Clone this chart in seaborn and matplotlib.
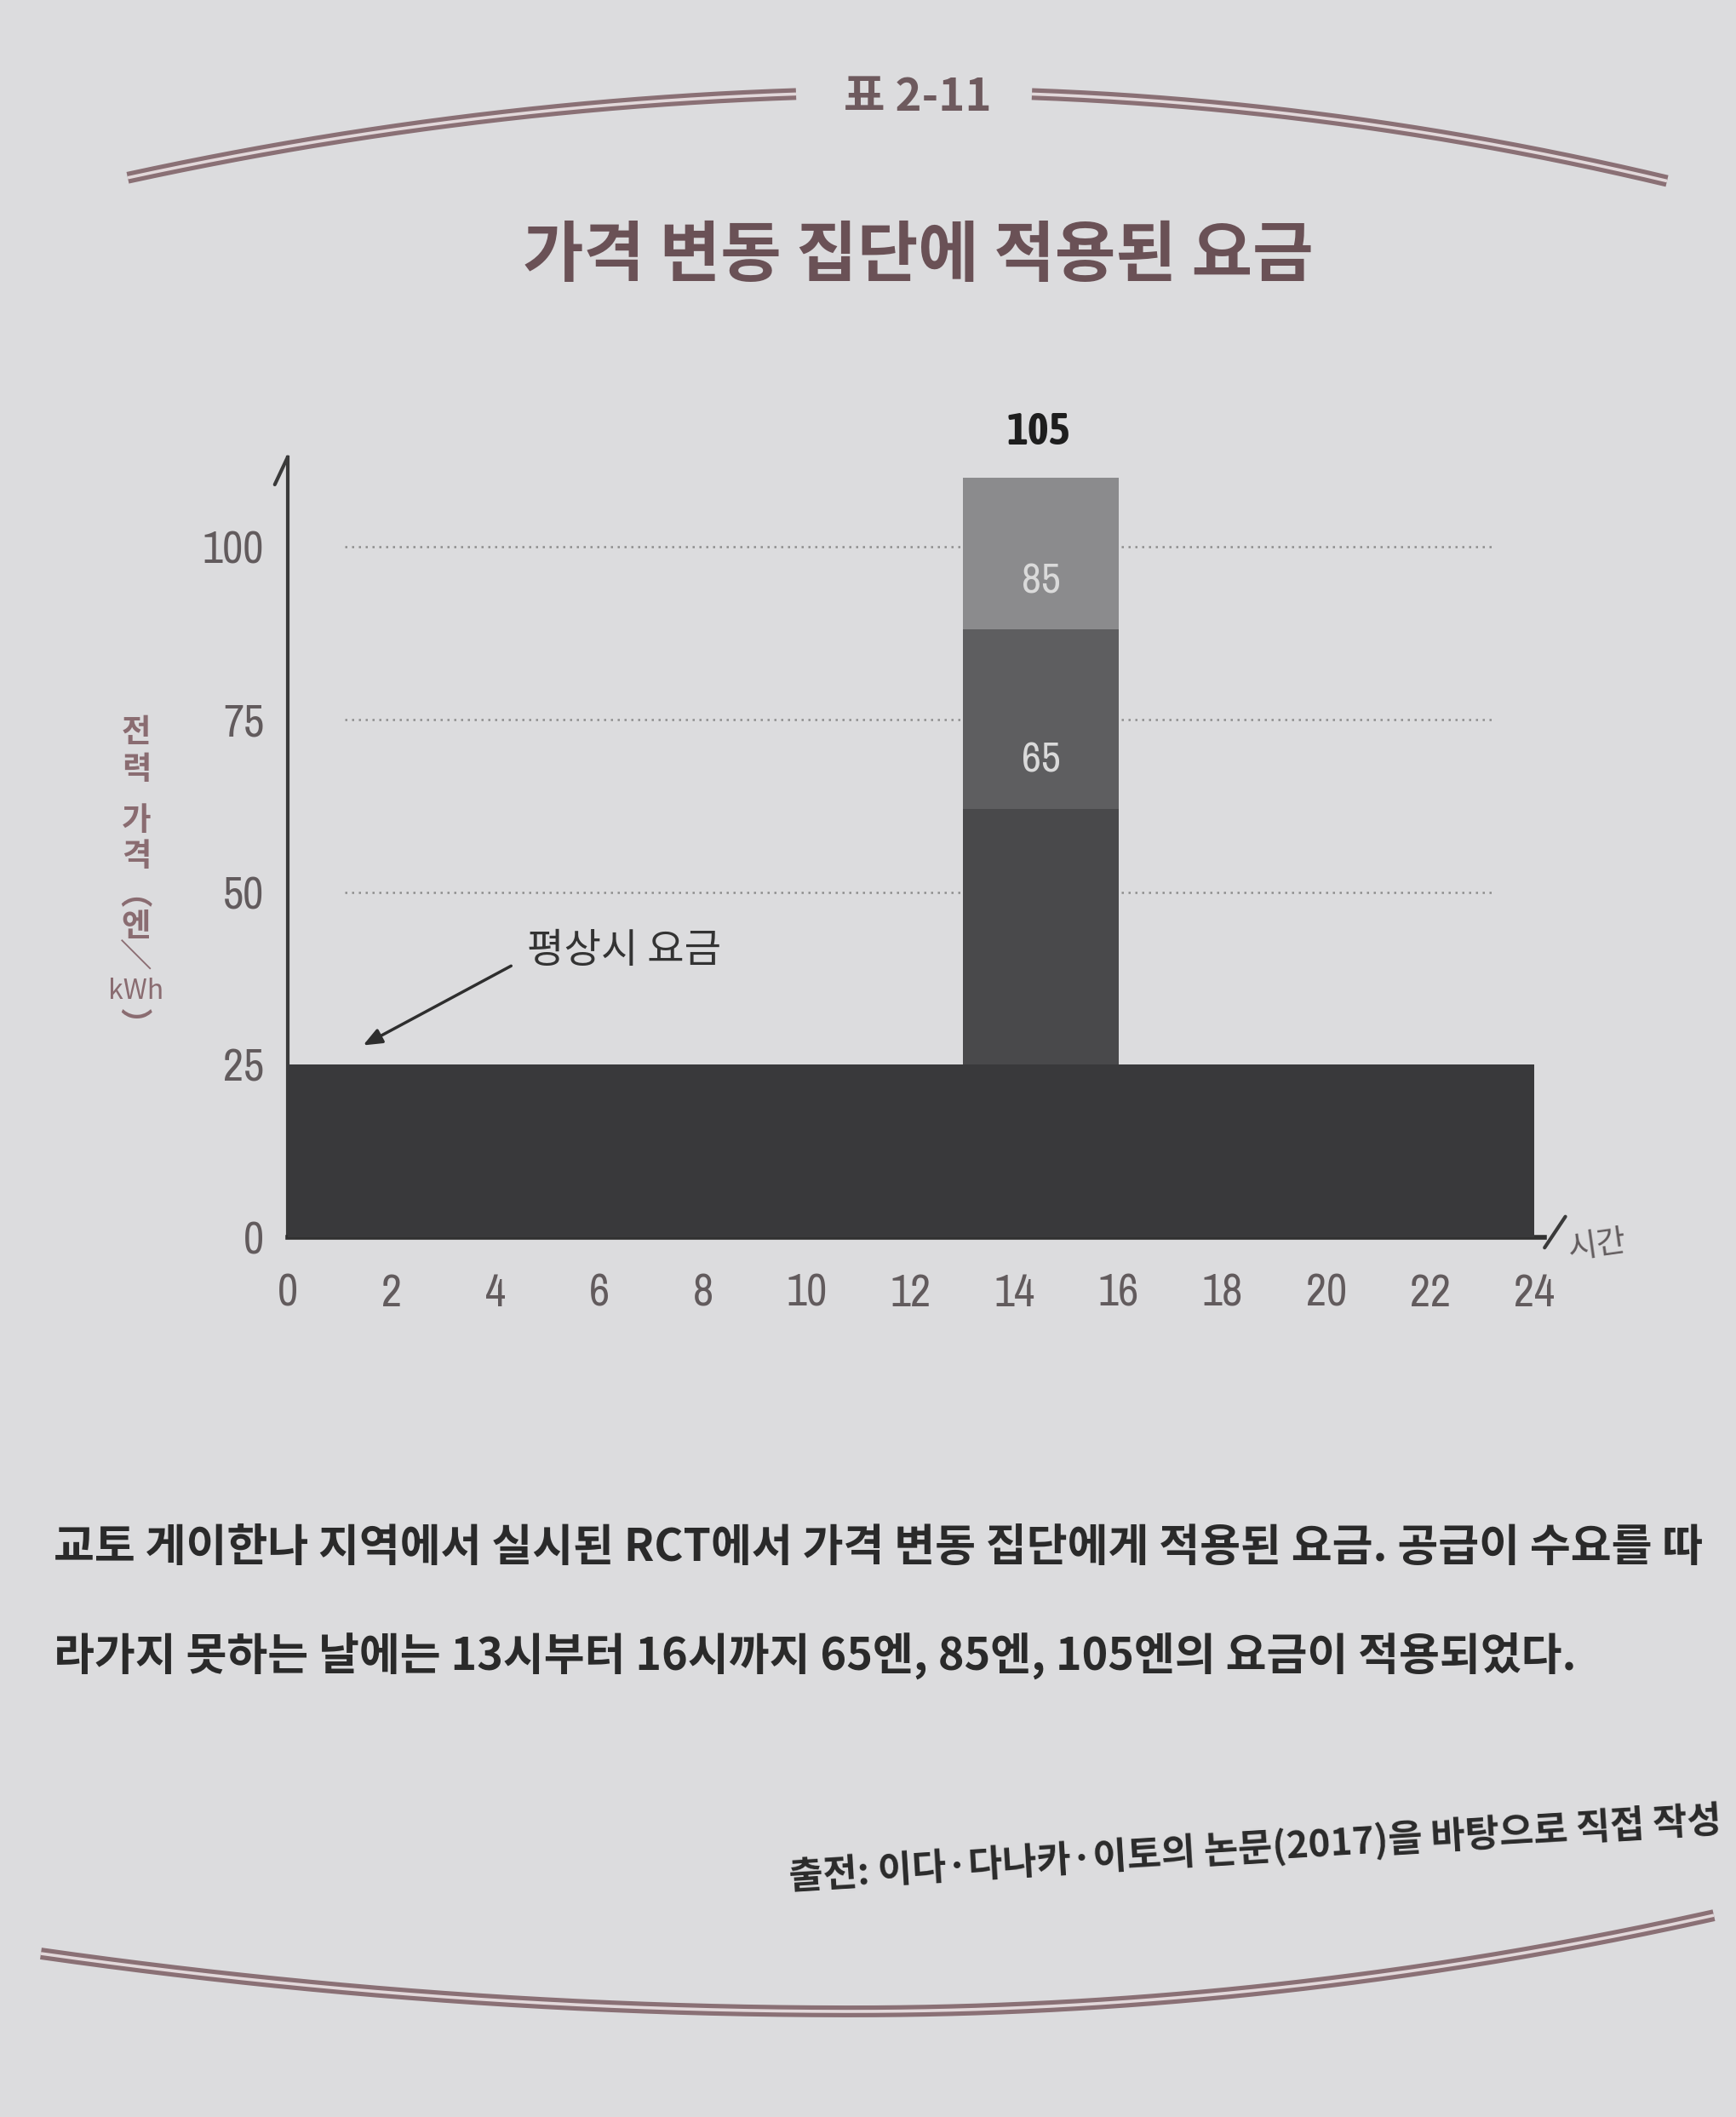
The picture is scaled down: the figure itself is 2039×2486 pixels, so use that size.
import numpy as np
import matplotlib
matplotlib.use("Agg")
import matplotlib.pyplot as plt
import matplotlib.font_manager as fm
import seaborn as sns

# ---------------- data ----------------
base_start = 0
base_end = 24
base_price = 25
spike_start = 13
spike_end = 16
tier_tops = [62, 88, 110]            # drawn heights of the three stacked tiers
tier_labels = ["65", "85", "105"]
tier_colors = ["#49494b", "#5e5e60", "#8b8b8d"]
y_ticks = [0, 25, 50, 75, 100]
x_ticks = list(range(0, 25, 2))
grid_levels = [50, 75, 100]

title = "가격 변동 집단에 적용된 요금"
fig_no = "표 2-11"
ylabel_chars = ["전", "력", "가", "격", "︵", "엔", "＼", "kWh", "︶"]
xlabel = "시간"
note = "평상시 요금"
caption1 = "교토 게이한나 지역에서 실시된 RCT에서 가격 변동 집단에게 적용된 요금. 공급이 수요를 따"
caption2 = "라가지 못하는 날에는 13시부터 16시까지 65엔, 85엔, 105엔의 요금이 적용되었다."
source = "출전: 이다·다나카·이토의 논문(2017)을 바탕으로 직접 작성"

# ---------------- style ----------------
PAGE = "#dcdcde"
sns.set_theme(style="white", rc={"axes.facecolor": PAGE, "figure.facecolor": PAGE})
plt.rcParams["font.family"] = ["Noto Sans CJK KR", "DejaVu Sans"]


def find_narrow(bold=False):
    cands = []
    for f in fm.fontManager.ttflist:
        st = str(f.stretch)
        narrow = ("Narrow" in f.name or "Condensed" in f.name or "condensed" in st
                  or (st.isdigit() and int(st) < 100))
        if not narrow or "italic" in str(f.style) or "oblique" in str(f.style):
            continue
        w = f.weight if isinstance(f.weight, int) else (700 if "bold" in str(f.weight) else 400)
        target = 700 if bold else 400
        pref = 0 if ("Narrow" in f.name or "Condensed" in f.name or "Noto Sans" in f.name or "Roboto" in f.name) else 1
        cands.append((pref, abs(w - target), f.fname))
    if cands:
        cands.sort()
        return fm.FontProperties(fname=cands[0][2])
    return fm.FontProperties(family="DejaVu Sans", weight="bold" if bold else "normal")


NARROW_R = find_narrow(False)
NARROW_B = find_narrow(True)

TICKC = "#625b5d"

W, H = 2040, 2486
fig = plt.figure(figsize=(W / 100, H / 100), dpi=100)
fig.patch.set_facecolor(PAGE)

# axes geometry (pixels)
x0_px, y0_px = 338, 1453
px_per_x, px_per_y = 61.0, 8.11
xmax, ymax = 24.4, 113
ax = fig.add_axes([x0_px / W, (H - y0_px) / H, xmax * px_per_x / W, ymax * px_per_y / H])
ax.set_xlim(0, xmax)
ax.set_ylim(0, ymax)

# gridlines
ax.hlines(grid_levels, 1.1, 23.2, colors="#8e8e8e", linestyles=(0, (1, 2.2)), lw=1.8, zorder=1)

# base bar
ax.bar([base_start], [base_price], width=base_end - base_start, align="edge",
       color="#39393b", edgecolor="none", zorder=3)
# spike tiers
bottoms = [base_price] + tier_tops[:-1]
heights = [t - b for t, b in zip(tier_tops, bottoms)]
for b, h, c in zip(bottoms, heights, tier_colors):
    ax.bar([spike_start], [h], bottom=[b], width=spike_end - spike_start, align="edge",
           color=c, edgecolor="none", zorder=3)

xc = (spike_start + spike_end) / 2
lab_fp = NARROW_R.copy()
lab_fp.set_size(36)
for b, lab in zip(bottoms[1:], tier_labels[:2]):
    ax.text(xc, b + 7, lab, ha="center", va="center", color="#dadada",
            fontproperties=lab_fp, zorder=5)
top_fp = NARROW_B.copy()
top_fp.set_size(38)
ax.text(xc - 0.05, tier_tops[-1] + 3.5, tier_labels[2], ha="center", va="bottom",
        color="#1e1e1e", fontproperties=top_fp, fontweight="bold", clip_on=False)

# spines
for s in ["top", "right"]:
    ax.spines[s].set_visible(False)
ax.spines["left"].set_color("#3a3a3a")
ax.spines["left"].set_linewidth(3)
ax.spines["bottom"].set_color("#303030")
ax.spines["bottom"].set_linewidth(4)
ax.spines["bottom"].set_bounds(0, 24.2)
# axis-end strokes
ax.plot([0, -0.25], [ymax, ymax - 4], color="#3a3a3a", lw=3, clip_on=False, solid_capstyle="round")
ax.plot([24.2, 24.6], [-1.5, 3], color="#3a3a3a", lw=3, clip_on=False, solid_capstyle="round")

ax.set_xticks(x_ticks)
ax.set_xticklabels([str(v) for v in x_ticks])
ax.set_yticks(y_ticks)
ax.set_yticklabels([str(v) for v in y_ticks])
ax.tick_params(axis="x", length=0, pad=30, labelcolor=TICKC)
ax.tick_params(axis="y", length=0, pad=20, labelcolor=TICKC)
tick_fp = NARROW_R.copy()
tick_fp.set_size(38)
for lab in ax.get_xticklabels() + ax.get_yticklabels():
    lab.set_fontproperties(tick_fp)

ax.text(25.2, -1.2, xlabel, ha="center", va="center", fontsize=27, color=TICKC,
        rotation=8, clip_on=False)

# annotation
ax.text(4.6, 41.5, note, ha="left", va="center", fontsize=34, color="#333333")
ax.annotate("", xy=(1.45, 27.8), xytext=(4.3, 39.3),
            arrowprops=dict(arrowstyle="-|>,head_length=1.1,head_width=0.45", color="#2e2e2e",
                            lw=2.5, shrinkA=0, shrinkB=0))

# y label (stacked vertically)
ylab_y = [860, 904, 964, 1006, 1050, 1088, 1124, 1164, 1204]
for ch, yp in zip(ylabel_chars, ylab_y):
    fs = 23 if ch == "kWh" else 27
    fig.text(160 / W, 1 - yp / H, ch, ha="center", va="center", fontsize=fs,
             color="#8a6c71", fontweight="bold" if ch != "kWh" else "normal")

# title block
fig.text(1078 / W, 1 - 114 / H, fig_no, ha="center", va="center", fontsize=38,
         fontweight="heavy", color="#6e5a5e")
fig.text(1078 / W, 1 - 301 / H, title, ha="center", va="center", fontsize=56,
         fontweight="bold", color="#6a5156")


# decorative double lines
def deco(xs, ys):
    fig.add_artist(plt.Line2D(xs / W, 1 - ys / H, color="#8a7075", lw=10, solid_capstyle="butt"))
    fig.add_artist(plt.Line2D(xs / W, 1 - ys / H, color="#e2d8da", lw=2.6, solid_capstyle="butt"))


xl = np.linspace(150, 935, 200)
deco(xl, 108 + 1.17e-4 * (xl - 1078) ** 2)
xr = np.linspace(1212, 1958, 200)
deco(xr, 108 + 1.35e-4 * (xr - 1078) ** 2)
xb = np.linspace(48, 2013, 400)
yb = np.where(xb < 1000, 2362 - 7.5e-5 * (xb - 1000) ** 2, 2362 - 1.1e-4 * (xb - 1000) ** 2)
deco(xb, yb)

# caption
fig.text(63 / W, 1 - 1818 / H, caption1, ha="left", va="center", fontsize=37.5,
         color="#2a2a2a", fontweight="bold")
fig.text(63 / W, 1 - 1945 / H, caption2, ha="left", va="center", fontsize=37.5,
         color="#2a2a2a", fontweight="bold")
fig.text(1474 / W, 1 - 2170 / H, source, ha="center", va="center", fontsize=31.5,
         color="#2a2a2a", fontweight="bold", rotation=3.5, rotation_mode="anchor")

fig.savefig("out.png", dpi=100, facecolor=PAGE)
